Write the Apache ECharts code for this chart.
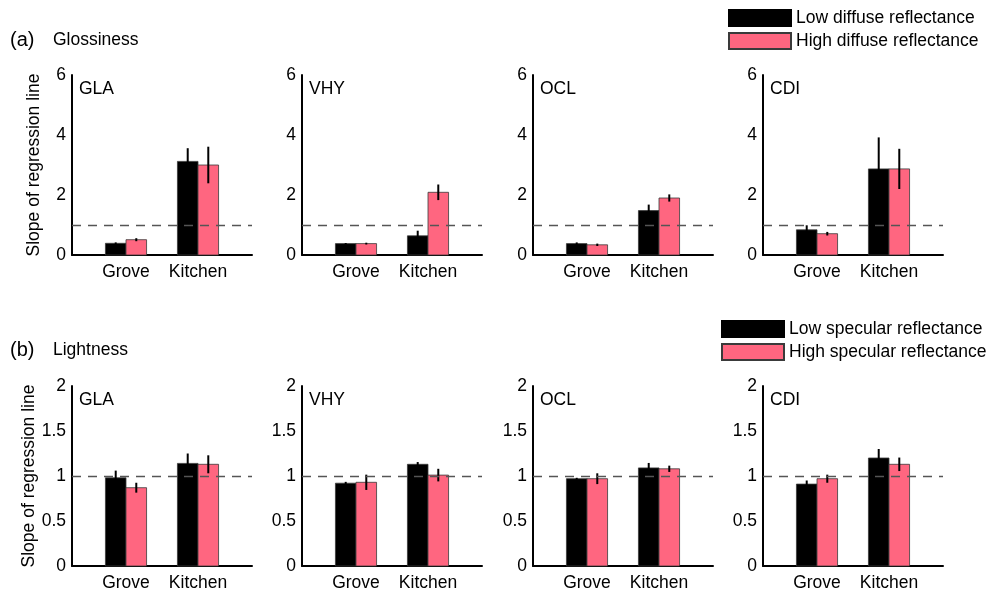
<!DOCTYPE html>
<html>
<head>
<meta charset="utf-8">
<script src="https://cdn.jsdelivr.net/npm/echarts@6/dist/echarts.min.js"></script>
<style>
html,body{margin:0;padding:0;background:#fff;}
#chart{width:991px;height:594px;}
</style>
</head>
<body>
<div id="chart"></div>
<script>
// ---- data ----
const subjects = ['GLA', 'VHY', 'OCL', 'CDI'];
const scenes = ['Grove', 'Kitchen'];
const sceneX = [1, 2];
const glossTicks = [0, 2, 4, 6];
const lightTicks = [0, 0.5, 1, 1.5, 2];
const referenceSlope = 1;

// (a) Glossiness: [Grove, Kitchen] per subject
const glossLow = [[0.39, 3.12], [0.38, 0.64], [0.38, 1.48], [0.84, 2.87]];
const glossLowErr = [[0.03, 0.44], [0.02, 0.17], [0.04, 0.20], [0.15, 1.05]];
const glossHigh = [[0.51, 3.00], [0.38, 2.09], [0.34, 1.90], [0.71, 2.87]];
const glossHighErr = [[0.05, 0.61], [0.03, 0.26], [0.04, 0.12], [0.06, 0.67]];

// (b) Lightness
const lightLow = [[0.98, 1.14], [0.92, 1.13], [0.97, 1.09], [0.91, 1.20]];
const lightLowErr = [[0.08, 0.11], [0.015, 0.025], [0.01, 0.055], [0.04, 0.10]];
const lightHigh = [[0.87, 1.13], [0.93, 1.01], [0.97, 1.08], [0.97, 1.13]];
const lightHighErr = [[0.055, 0.10], [0.085, 0.07], [0.06, 0.035], [0.045, 0.075]];

const glossNames = ['Low diffuse reflectance', 'High diffuse reflectance'];
const lightNames = ['Low specular reflectance', 'High specular reflectance'];

// ---- layout / style ----
const FONT = '"Liberation Sans", Arial, Helvetica, sans-serif';
const PINK = '#ff6680';
const BLACK = '#000000';
const colLeft = [72, 302, 533, 763];
const gridW = 180, gridH = 180;
const rowTop = [75, 386];
const BW = 0.2857;

const chart = echarts.init(document.getElementById('chart'), null, {renderer: 'canvas'});

const grids = [], xAxes = [], yAxes = [], series = [], graphics = [];

function makeRender(lo, hi) {
  return function (params, api) {
    const cx = api.value(0), v = api.value(1), e = api.value(2);
    const p0 = api.coord([cx + lo, 0]);
    const p1 = api.coord([cx + hi, v]);
    const mid = (p0[0] + p1[0]) / 2;
    const et = api.coord([cx, v + e])[1];
    const eb = api.coord([cx, Math.max(0, v - e)])[1];
    const st = api.style();
    return {
      type: 'group',
      children: [
        {type: 'rect', shape: {x: p0[0], y: p1[1], width: p1[0] - p0[0], height: p0[1] - p1[1]},
         style: {fill: st.fill, stroke: '#3a3a3a', lineWidth: 0.8}},
        {type: 'line', shape: {x1: mid, y1: et, x2: mid, y2: eb},
         style: {stroke: '#000', lineWidth: 2}}
      ]
    };
  };
}

function addPanel(row, col, low, lowErr, high, highErr, names, yMax, yInt) {
  const idx = grids.length;
  grids.push({left: colLeft[col], top: rowTop[row], width: gridW, height: gridH, containLabel: false});
  xAxes.push({
    type: 'value', gridIndex: idx, min: 0.25, max: 2.75, interval: 0.25,
    splitLine: {show: false}, axisTick: {show: false},
    axisLine: {show: true, onZero: false, lineStyle: {color: '#000', width: 2}},
    axisLabel: {
      color: '#000', fontSize: 17.5, fontFamily: FONT, margin: 8, showMinLabel: true, showMaxLabel: true,
      formatter: function (v) { const k = sceneX.indexOf(v); return k >= 0 ? scenes[k] : ''; }
    }
  });
  yAxes.push({
    type: 'value', gridIndex: idx, min: 0, max: yMax, interval: yInt,
    splitLine: {show: false}, axisTick: {show: false},
    axisLine: {show: true, lineStyle: {color: '#000', width: 2}},
    axisLabel: {color: '#000', fontSize: 17.5, fontFamily: FONT, margin: 6},
    name: col === 0 ? 'Slope of regression line' : '',
    nameLocation: 'middle', nameGap: 29,
    nameTextStyle: {color: '#000', fontSize: 17.5, fontFamily: FONT}
  });
  const dLow = sceneX.map((x, i) => [x, low[i], lowErr[i]]);
  const dHigh = sceneX.map((x, i) => [x, high[i], highErr[i]]);
  series.push({
    type: 'custom', name: names[0], xAxisIndex: idx, yAxisIndex: idx,
    renderItem: makeRender(-BW, 0), encode: {x: 0, y: 1}, data: dLow,
    itemStyle: {color: BLACK, borderColor: '#000', borderWidth: 1}, silent: true,
    markLine: {
      silent: true, symbol: 'none', label: {show: false},
      lineStyle: {color: '#555', width: 1.4, type: [9, 7]},
      data: [{yAxis: referenceSlope}]
    }, z: 2
  });
  series.push({
    type: 'custom', name: names[1], xAxisIndex: idx, yAxisIndex: idx,
    renderItem: makeRender(0, BW), encode: {x: 0, y: 1}, data: dHigh,
    itemStyle: {color: PINK, borderColor: '#3a3a3a', borderWidth: 1}, silent: true, z: 3
  });
  graphics.push({
    type: 'text', left: colLeft[col] + 7, top: rowTop[row] + 5,
    style: {text: subjects[col], fill: '#000', font: '17.5px ' + FONT}
  });
}

for (let c = 0; c < 4; c++) {
  addPanel(0, c, glossLow[c], glossLowErr[c], glossHigh[c], glossHighErr[c], glossNames, 6, 2);
}
for (let c = 0; c < 4; c++) {
  addPanel(1, c, lightLow[c], lightLowErr[c], lightHigh[c], lightHighErr[c], lightNames, 2, 0.5);
}

graphics.push(
  {type: 'text', left: 10, top: 30, style: {text: '(a)', fill: '#000', font: '20px ' + FONT}},
  {type: 'text', left: 53, top: 31, style: {text: 'Glossiness', fill: '#000', font: '17.5px ' + FONT}},
  {type: 'text', left: 10, top: 340, style: {text: '(b)', fill: '#000', font: '20px ' + FONT}},
  {type: 'text', left: 53, top: 341, style: {text: 'Lightness', fill: '#000', font: '17.5px ' + FONT}}
);

const legendCommon = {
  orient: 'vertical', icon: 'rect', itemWidth: 62, itemHeight: 16, itemGap: 5, padding: 0,
  selectedMode: false,
  textStyle: {color: '#000', fontSize: 17.5, fontFamily: FONT, lineHeight: 18}
};

chart.setOption({
  animation: false,
  backgroundColor: '#fff',
  grid: grids, xAxis: xAxes, yAxis: yAxes, series: series,
  legend: [
    Object.assign({}, legendCommon, {left: 728, top: 9, data: glossNames}),
    Object.assign({}, legendCommon, {left: 721, top: 320, data: lightNames})
  ],
  graphic: graphics
});
</script>
</body>
</html>
